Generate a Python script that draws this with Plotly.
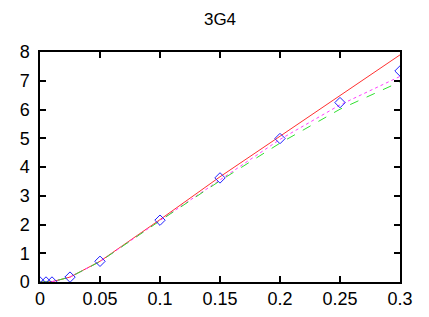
import plotly.graph_objects as go

x_vals = [0, 0.005, 0.01, 0.025, 0.05, 0.1, 0.15, 0.2, 0.25, 0.3]
y_points = [0, 0, 0, 0.17, 0.72, 2.15, 3.62, 4.99, 6.24, 7.34]
y_red = [0, 0, 0.01, 0.17, 0.72, 2.17, 3.66, 5.07, 6.48, 7.90]
y_magenta = [0, 0, 0.01, 0.17, 0.71, 2.14, 3.56, 4.96, 6.16, 7.15]
y_green = [0, 0, 0.01, 0.17, 0.71, 2.13, 3.52, 4.83, 6.01, 6.96]
x_ticks = [0, 0.05, 0.1, 0.15, 0.2, 0.25, 0.3]
x_tick_labels = ["0", "0.05", "0.1", "0.15", "0.2", "0.25", "0.3"]
y_ticks = [0, 1, 2, 3, 4, 5, 6, 7, 8]

fig = go.Figure()
fig.add_trace(go.Scatter(x=x_vals, y=y_red, mode="lines",
                         line=dict(color="#ff3030", width=1)))
fig.add_trace(go.Scatter(x=x_vals, y=y_magenta, mode="lines",
                         line=dict(color="#ff40ff", width=1, dash="dot")))
fig.add_trace(go.Scatter(x=x_vals, y=y_green, mode="lines",
                         line=dict(color="#30e030", width=1, dash="dash")))
fig.add_trace(go.Scatter(x=x_vals, y=y_points, mode="markers",
                         marker=dict(symbol="diamond-open", size=8,
                                     color="#2020ff", line=dict(width=1))))

axis_common = dict(showline=True, linecolor="black", linewidth=1.5,
                   mirror="ticks", ticks="inside", ticklen=6,
                   tickcolor="black", tickwidth=1.5, showgrid=False,
                   zeroline=False, automargin=False,
                   tickfont=dict(family="Liberation Sans", size=18, color="black"))

fig.update_layout(
    width=429, height=317,
    margin=dict(l=32, r=37, t=44, b=43, autoexpand=False),
    paper_bgcolor="white", plot_bgcolor="white",
    showlegend=False,
    title=dict(text="3G4", x=212/429, xanchor="center", y=1 - 11/317,
               yanchor="middle",
               font=dict(family="Liberation Sans", size=17, color="black")),
    xaxis=dict(range=[0, 0.3], tickvals=x_ticks, ticktext=x_tick_labels, **axis_common),
    yaxis=dict(range=[0, 8], tickvals=y_ticks, ticklabelstandoff=5, **axis_common),
)

fig.write_html("out.html")
